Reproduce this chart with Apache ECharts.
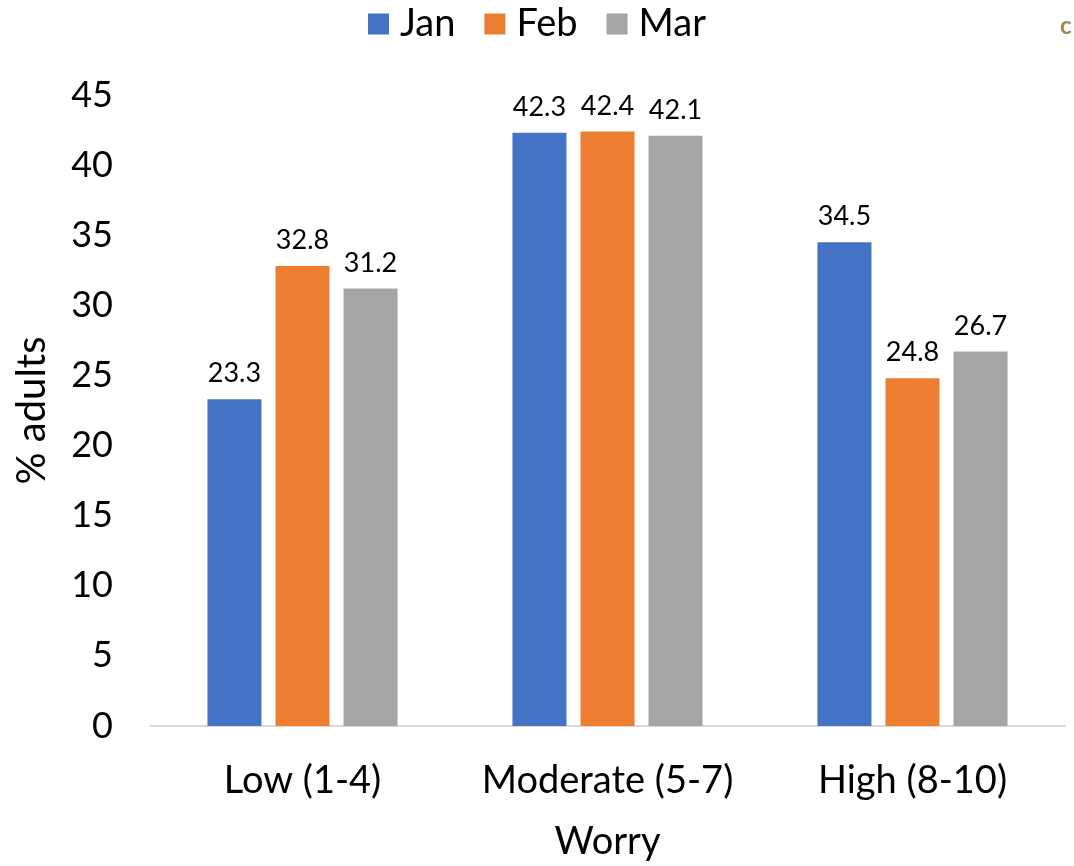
<!DOCTYPE html>
<html>
<head>
<meta charset="utf-8">
<script src="https://cdn.jsdelivr.net/npm/echarts@6/dist/echarts.min.js"></script>
<style>
  html, body { margin: 0; padding: 0; background: #fff; overflow: hidden; }
  #chart { width: 100vw; height: 100vh; }
</style>
</head>
<body>
<div id="chart"></div>
<script>
// Worry levels among adults, by month
const categories = ['Low (1-4)', 'Moderate (5-7)', 'High (8-10)'];
const seriesNames = ['Jan', 'Feb', 'Mar'];
const janValues = [23.3, 42.3, 34.5];
const febValues = [32.8, 42.4, 24.8];
const marValues = [31.2, 42.1, 26.7];
const colors = ['#4472C4', '#ED7D31', '#A5A5A5'];

const font = 'Lato, Open Sans, sans-serif';

const chart = echarts.init(document.getElementById('chart'));

function barSeries(name, data, color) {
  return {
    name: name,
    type: 'bar',
    data: data,
    barWidth: 54,
    barGap: '26%',
    itemStyle: { color: color },
    label: {
      show: true,
      position: 'top',
      distance: 12,
      color: '#000',
      fontSize: 27,
      fontFamily: font,
      formatter: p => p.value.toFixed(1)
    }
  };
}

chart.setOption({
  animation: false,
  color: colors,
  legend: {
    top: 0,
    left: 'center',
    itemWidth: 21,
    itemHeight: 21,
    itemGap: 29,
    icon: 'rect',
    textStyle: { fontSize: 38, fontFamily: font, color: '#000', padding: [0, 0, 0, 6] },
    data: seriesNames
  },
  grid: { left: 150, right: 9, top: 95, bottom: 139 },
  xAxis: {
    type: 'category',
    data: categories,
    name: 'Worry',
    nameLocation: 'middle',
    nameGap: 97,
    nameTextStyle: { fontSize: 38, fontFamily: font, color: '#000' },
    axisLine: { lineStyle: { color: '#d9d9d9', width: 2 } },
    axisTick: { show: false },
    axisLabel: { interval: 0, fontSize: 38, fontFamily: font, color: '#000', margin: 36 }
  },
  yAxis: {
    type: 'value',
    min: 0,
    max: 45,
    interval: 5,
    name: '% adults',
    nameLocation: 'middle',
    nameGap: 98,
    nameTextStyle: { fontSize: 40, fontFamily: font, color: '#000' },
    axisLine: { show: false },
    axisTick: { show: false },
    splitLine: { show: false },
    axisLabel: { fontSize: 36, fontFamily: font, color: '#000', margin: 37 }
  },
  graphic: [{
    type: 'text',
    left: 1060,
    top: 14,
    style: { text: 'c', fontSize: 24, fontFamily: font, fill: '#a08a4c', fontWeight: 'bold' }
  }],
  series: [
    barSeries(seriesNames[0], janValues, colors[0]),
    barSeries(seriesNames[1], febValues, colors[1]),
    barSeries(seriesNames[2], marValues, colors[2])
  ]
});
</script>
</body>
</html>
